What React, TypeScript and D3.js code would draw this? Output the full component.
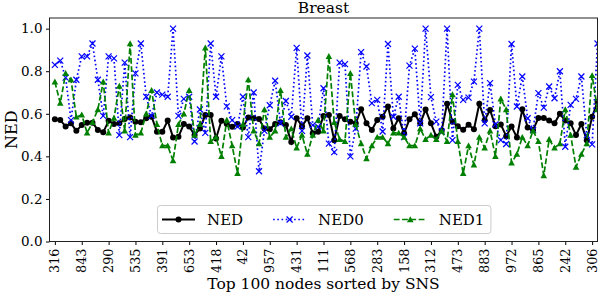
import React, { useEffect, useRef } from 'react';
import * as d3 from 'd3';

// node ids shown on the x axis (every 5th node)
const nodeLabels = ['316', '843', '290', '535', '391', '653', '418', '42', '957', '431', '111',
  '568', '283', '158', '312', '473', '883', '972', '865', '242', '306'];

const ned = [0.574, 0.571, 0.54, 0.555, 0.52, 0.547, 0.558, 0.558, 0.524, 0.513,
  0.567, 0.552, 0.555, 0.575, 0.583, 0.562, 0.56, 0.579, 0.586, 0.516,
  0.516, 0.568, 0.489, 0.492, 0.552, 0.54, 0.5, 0.531, 0.594, 0.594,
  0.484, 0.567, 0.552, 0.539, 0.552, 0.535, 0.583, 0.579, 0.575, 0.531,
  0.527, 0.552, 0.56, 0.547, 0.468, 0.579, 0.542, 0.579, 0.508, 0.516,
  0.59, 0.594, 0.476, 0.59, 0.574, 0.563, 0.555, 0.621, 0.555, 0.524,
  0.571, 0.586, 0.634, 0.531, 0.579, 0.508, 0.574, 0.598, 0.555, 0.62,
  0.555, 0.492, 0.522, 0.647, 0.563, 0.541, 0.525, 0.548, 0.527, 0.647,
  0.57, 0.618, 0.542, 0.55, 0.495, 0.54, 0.489, 0.621, 0.536, 0.524,
  0.58, 0.58, 0.568, 0.555, 0.6, 0.568, 0.555, 0.5, 0.552, 0.476,
  0.586, 0.657];

const ned0 = [0.83, 0.85, 0.77, 0.57, 0.76, 0.87, 0.87, 0.93, 0.76, 0.59,
  0.87, 0.86, 0.5, 0.84, 0.49, 0.79, 0.93, 0.68, 0.59, 0.7,
  0.69, 0.68, 1.0, 0.59, 0.67, 0.68, 0.47, 0.62, 0.51, 0.93,
  0.68, 0.87, 0.635, 0.57, 0.54, 0.68, 0.49, 0.7, 0.33, 0.52,
  0.64, 0.755, 0.555, 0.66, 0.586, 0.91, 0.52, 0.874, 0.547, 0.54,
  0.72, 0.46, 0.42, 0.84, 0.833, 0.4, 0.53, 0.89, 0.822, 0.65,
  0.665, 0.517, 0.928, 0.586, 0.68, 0.49, 0.826, 0.906, 0.555, 1.0,
  0.678, 0.563, 0.516, 1.0, 0.476, 0.736, 0.665, 0.676, 0.751, 1.0,
  0.555, 0.744, 0.55, 0.476, 0.458, 0.928, 0.634, 0.775, 0.579, 0.524,
  0.697, 0.629, 0.728, 0.673, 0.8, 0.445, 0.642, 0.67, 0.775, 0.5,
  0.456, 0.93];

const ned1 = [0.75, 0.65, 0.79, 0.76, 0.585, 0.595, 0.51, 0.56, 0.62, 0.75,
  0.51, 0.58, 0.73, 0.52, 0.93, 0.5, 0.51, 0.6, 0.71, 0.55,
  0.45, 0.45, 0.38, 0.55, 0.6, 0.71, 0.5, 0.55, 0.91, 0.47,
  0.49, 0.4, 0.57, 0.45, 0.32, 0.55, 0.76, 0.52, 0.46, 0.62,
  0.49, 0.52, 0.71, 0.49, 0.53, 0.44, 0.5, 0.41, 0.5, 0.57,
  0.52, 0.87, 0.56, 0.48, 0.47, 0.79, 0.55, 0.46, 0.39, 0.45,
  0.49, 0.49, 0.46, 0.51, 0.51, 0.49, 0.45, 0.45, 0.53, 0.48,
  0.5, 0.48, 0.52, 0.47, 0.69, 0.47, 0.32, 0.45, 0.36, 0.49,
  0.44, 0.52, 0.4, 0.67, 0.62, 0.37, 0.41, 0.49, 0.45, 0.52,
  0.47, 0.31, 0.48, 0.44, 0.46, 0.62, 0.5, 0.35, 0.41, 0.46,
  0.78, 0.62];

const seriesNames = ['NED', 'NED0', 'NED1'];
const seriesData = [ned, ned0, ned1];
const colors = ['#000000', '#0000ff', '#008000'];
const dashes = ['none', '1.6,2.6', '5.8,2.5'];
const markers = ['circle', 'x', 'triangle'];

const W = 598, H = 293;
const FONT = "'DejaVu Serif', serif";

function drawMarker(g: any, kind: string, cx: number, cy: number, color: string) {
  if (kind === 'circle') {
    g.append('circle').attr('cx', cx).attr('cy', cy).attr('r', 3).attr('fill', color);
  } else if (kind === 'x') {
    const s = 3;
    g.append('path')
      .attr('d', `M${cx - s},${cy - s}L${cx + s},${cy + s}M${cx - s},${cy + s}L${cx + s},${cy - s}`)
      .attr('stroke', color).attr('stroke-width', 1.2).attr('fill', 'none');
  } else {
    const s = 3.3;
    g.append('path')
      .attr('d', `M${cx},${cy - s}L${cx + s},${cy + s * 0.8}L${cx - s},${cy + s * 0.8}Z`)
      .attr('fill', color);
  }
}

export default function App() {
  const ref = useRef<SVGSVGElement>(null);

  useEffect(() => {
    const svg = d3.select(ref.current);
    svg.selectAll('*').remove();

    const left = 49.5, right = 597.5, top = 18, bottom = 241.5;
    const x = d3.scaleLinear().domain([-1, 101]).range([left, right]);
    const y = d3.scaleLinear().domain([0, 1.05]).range([bottom, top]);

    // y axis
    const ya = svg.append('g').attr('transform', `translate(${left},0)`)
      .call(d3.axisLeft(y).tickValues([0, 0.2, 0.4, 0.6, 0.8, 1.0])
        .tickFormat(d3.format('.1f')).tickSize(3.5).tickPadding(3.5));
    ya.select('.domain').remove();
    ya.selectAll('text').style('font-family', FONT).style('font-size', '13.5px').attr('fill', '#000');
    ya.selectAll('line').attr('stroke', '#000');

    // x axis
    const xa = svg.append('g').attr('transform', `translate(0,${bottom})`)
      .call(d3.axisBottom(x).tickValues(d3.range(0, 101, 5))
        .tickFormat((d: any, i: number) => nodeLabels[i]).tickSize(3.5));
    xa.select('.domain').remove();
    xa.selectAll('line').attr('stroke', '#000');
    xa.selectAll('text')
      .style('font-family', FONT).style('font-size', '12.8px').attr('fill', '#000')
      .attr('transform', 'rotate(-90)')
      .attr('x', -7).attr('y', -0.5).attr('dy', '0.35em')
      .style('text-anchor', 'end');

    // lines + markers
    seriesData.forEach((vals, k) => {
      const line = d3.line<number>().x((d, i) => x(i)).y((d) => y(d));
      svg.append('path').datum(vals)
        .attr('d', line)
        .attr('fill', 'none')
        .attr('stroke', colors[k])
        .attr('stroke-width', k === 0 ? 2 : 1.7)
        .attr('stroke-dasharray', dashes[k]);
      const mg = svg.append('g');
      vals.forEach((v, i) => drawMarker(mg, markers[k], x(i), y(v), colors[k]));
    });

    // frame
    svg.append('rect').attr('x', left).attr('y', top)
      .attr('width', right - left).attr('height', bottom - top)
      .attr('fill', 'none').attr('stroke', '#222').attr('stroke-width', 1);

    // title and labels
    svg.append('text').attr('x', (left + right) / 2).attr('y', 13)
      .attr('text-anchor', 'middle').style('font-family', FONT).style('font-size', '15.5px')
      .text('Breast');
    svg.append('text').attr('x', (left + right) / 2).attr('y', 289)
      .attr('text-anchor', 'middle').style('font-family', FONT).style('font-size', '15.5px')
      .text('Top 100 nodes sorted by SNS');
    svg.append('text')
      .attr('transform', `translate(17,${(top + bottom) / 2}) rotate(-90)`)
      .attr('text-anchor', 'middle').style('font-family', FONT).style('font-size', '16px')
      .text('NED');

    // legend
    const lg = svg.append('g');
    const box = lg.append('rect').attr('x', 157.5).attr('y', 205.5)
      .attr('width', 332).attr('height', 28).attr('rx', 3)
      .attr('fill', 'white').attr('fill-opacity', 0.8)
      .attr('stroke', '#cccccc').attr('stroke-width', 1);
    let lx = 162;
    const ly = 219.5;
    seriesNames.forEach((name, k) => {
      lg.append('line').attr('x1', lx).attr('x2', lx + 33).attr('y1', ly).attr('y2', ly)
        .attr('stroke', colors[k]).attr('stroke-width', k === 0 ? 2 : 1.7)
        .attr('stroke-dasharray', dashes[k]);
      drawMarker(lg, markers[k], lx + 16.5, ly, colors[k]);
      const t = lg.append('text').attr('x', lx + 45).attr('y', ly + 5.5)
        .style('font-family', FONT).style('font-size', '15px').text(name);
      const tw = (t.node() as SVGTextElement).getComputedTextLength();
      lx = lx + 45 + tw + 30;
    });
    box.attr('width', lx - 30 + 6.5 - 157.5);
  }, []);

  return (
    <>
      <style>{'body{margin:0}'}</style>
      <svg ref={ref} width={W} height={H} style={{ display: 'block', background: '#fff' }} />
    </>
  );
}
